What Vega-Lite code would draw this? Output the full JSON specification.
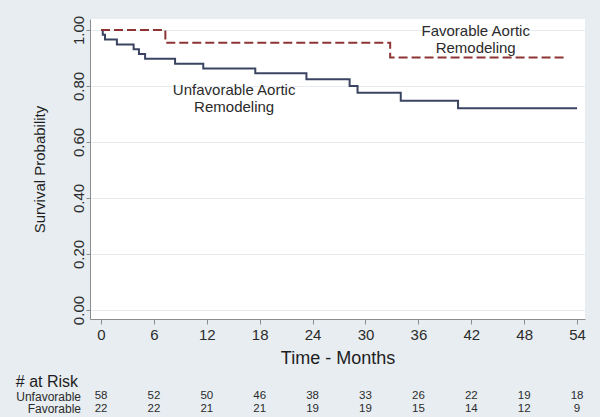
{
  "$schema": "https://vega.github.io/schema/vega-lite/v6.json",
  "background": "#e7edf1",
  "padding": {"left": 15, "top": 15, "right": 15, "bottom": 2},
  "spacing": 7,
  "config": {
    "font": "Liberation Sans",
    "axis": {"labelColor": "#2b2b2b", "titleColor": "#1e1e1e", "domainColor": "#8c8c8c", "tickColor": "#8c8c8c", "titleFontWeight": "normal"},
    "title": {"fontWeight": "normal", "color": "#1e1e1e"}
  },
  "datasets": {
    "km": [
      {"t": 0, "S": 1.0, "group": "Unfavorable"},
      {"t": 0.2, "S": 0.983, "group": "Unfavorable"},
      {"t": 0.45, "S": 0.966, "group": "Unfavorable"},
      {"t": 1.8, "S": 0.948, "group": "Unfavorable"},
      {"t": 3.7, "S": 0.931, "group": "Unfavorable"},
      {"t": 4.3, "S": 0.914, "group": "Unfavorable"},
      {"t": 5.0, "S": 0.897, "group": "Unfavorable"},
      {"t": 8.4, "S": 0.879, "group": "Unfavorable"},
      {"t": 11.6, "S": 0.862, "group": "Unfavorable"},
      {"t": 17.5, "S": 0.845, "group": "Unfavorable"},
      {"t": 23.3, "S": 0.824, "group": "Unfavorable"},
      {"t": 28.2, "S": 0.8, "group": "Unfavorable"},
      {"t": 29.1, "S": 0.776, "group": "Unfavorable"},
      {"t": 34.0, "S": 0.747, "group": "Unfavorable"},
      {"t": 40.5, "S": 0.72, "group": "Unfavorable"},
      {"t": 54.0, "S": 0.72, "group": "Unfavorable"},
      {"t": 0, "S": 1.0, "group": "Favorable"},
      {"t": 7.3, "S": 0.9545, "group": "Favorable"},
      {"t": 32.8, "S": 0.902, "group": "Favorable"},
      {"t": 52.6, "S": 0.902, "group": "Favorable"}
    ],
    "notes": [
      {"t": 15.1, "S": 0.786, "label": "Unfavorable Aortic"},
      {"t": 15.1, "S": 0.725, "label": "Remodeling"},
      {"t": 42.5, "S": 0.995, "label": "Favorable Aortic"},
      {"t": 42.5, "S": 0.934, "label": "Remodeling"}
    ],
    "risk": [
      {"t": 0, "group": "Unfavorable", "n": 58},
      {"t": 6, "group": "Unfavorable", "n": 52},
      {"t": 12, "group": "Unfavorable", "n": 50},
      {"t": 18, "group": "Unfavorable", "n": 46},
      {"t": 24, "group": "Unfavorable", "n": 38},
      {"t": 30, "group": "Unfavorable", "n": 33},
      {"t": 36, "group": "Unfavorable", "n": 26},
      {"t": 42, "group": "Unfavorable", "n": 22},
      {"t": 48, "group": "Unfavorable", "n": 19},
      {"t": 54, "group": "Unfavorable", "n": 18},
      {"t": 0, "group": "Favorable", "n": 22},
      {"t": 6, "group": "Favorable", "n": 22},
      {"t": 12, "group": "Favorable", "n": 21},
      {"t": 18, "group": "Favorable", "n": 21},
      {"t": 24, "group": "Favorable", "n": 19},
      {"t": 30, "group": "Favorable", "n": 19},
      {"t": 36, "group": "Favorable", "n": 15},
      {"t": 42, "group": "Favorable", "n": 14},
      {"t": 48, "group": "Favorable", "n": 12},
      {"t": 54, "group": "Favorable", "n": 9}
    ]
  },
  "vconcat": [
    {
      "width": 495,
      "height": 300,
      "view": {"fill": "white", "stroke": null},
      "encoding": {
        "x": {
          "field": "t", "type": "quantitative",
          "scale": {"domain": [-1.25, 54.9], "nice": false, "zero": false},
          "axis": {"values": [0, 6, 12, 18, 24, 30, 36, 42, 48, 54], "title": "Time - Months", "titleFontSize": 18, "labelFontSize": 15, "tickSize": 5, "labelPadding": 3, "titlePadding": 7, "grid": false, "labelFlush": false}
        },
        "y": {
          "field": "S", "type": "quantitative",
          "scale": {"domain": [-0.032, 1.039], "nice": false, "zero": false},
          "axis": {"values": [0, 0.2, 0.4, 0.6, 0.8, 1.0], "format": ".2f", "title": "Survival Probability", "titleFontSize": 15, "labelFontSize": 15, "labelAngle": 270, "labelAlign": "center", "labelBaseline": "alphabetic", "tickSize": 4, "labelPadding": 2.5, "titlePadding": 24, "grid": true, "gridColor": "#e6ebef", "gridWidth": 1.2}
        }
      },
      "layer": [
        {
          "data": {"name": "km"},
          "mark": {"type": "line", "interpolate": "step-after", "strokeWidth": 2},
          "encoding": {
            "color": {"field": "group", "type": "nominal", "scale": {"domain": ["Unfavorable", "Favorable"], "range": ["#3a4462", "#8e3434"]}, "legend": null},
            "strokeDash": {"field": "group", "type": "nominal", "scale": {"domain": ["Unfavorable", "Favorable"], "range": [[1, 0], [9, 4]]}, "legend": null}
          }
        },
        {
          "data": {"name": "notes"},
          "mark": {"type": "text", "fontSize": 15, "color": "#2b2b2b", "align": "center", "baseline": "middle"},
          "encoding": {"text": {"field": "label"}}
        }
      ]
    },
    {
      "width": 495,
      "height": 25,
      "view": {"stroke": null},
      "title": {"text": "# at Risk", "anchor": "start", "frame": "bounds", "fontSize": 16, "offset": 0},
      "data": {"name": "risk"},
      "mark": {"type": "text", "fontSize": 11.5, "color": "#2b2b2b"},
      "encoding": {
        "x": {"field": "t", "type": "quantitative", "scale": {"domain": [-1.25, 54.9], "nice": false, "zero": false}, "axis": null},
        "y": {"field": "group", "type": "nominal", "sort": ["Unfavorable", "Favorable"], "axis": {"title": null, "ticks": false, "domain": false, "labelFontSize": 12, "labelPadding": 9.5, "grid": false}},
        "text": {"field": "n"}
      }
    }
  ]
}
